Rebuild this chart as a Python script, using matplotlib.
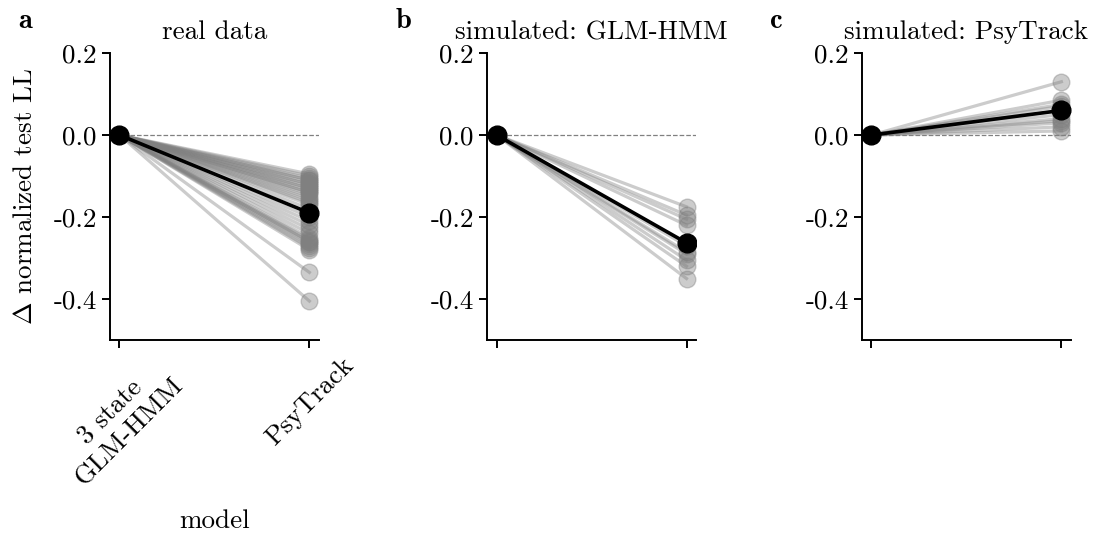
import numpy as np
import matplotlib
matplotlib.use('Agg')
import matplotlib.pyplot as plt

plt.rcParams['font.family'] = 'cmr10'
plt.rcParams['mathtext.fontset'] = 'cm'
plt.rcParams['axes.unicode_minus'] = False
plt.rcParams['axes.formatter.use_mathtext'] = True

# Change in normalized test LL (PsyTrack relative to 3 state GLM-HMM), one value per animal
real_data = [-0.095, -0.10, -0.105, -0.11, -0.11, -0.115, -0.12, -0.12, -0.125,
             -0.13, -0.13, -0.135, -0.14, -0.14, -0.145, -0.15, -0.155, -0.16,
             -0.165, -0.17, -0.18, -0.20, -0.21, -0.22, -0.23, -0.24, -0.25,
             -0.255, -0.26, -0.26, -0.265, -0.27, -0.275, -0.28, -0.335, -0.405]
sim_glmhmm = [-0.175, -0.195, -0.205, -0.22, -0.27, -0.285, -0.29, -0.305, -0.32, -0.35]
sim_psytrack = [0.13, 0.085, 0.075, 0.07, 0.06, 0.05, 0.04, 0.035, 0.03, 0.02, 0.01]

# mean across animals (black line)
mean_vals = [-0.19, -0.263, 0.06]

titles = ['real data', 'simulated: GLM-HMM', 'simulated: PsyTrack']
letters = ['a', 'b', 'c']
model_labels = ['3 state\nGLM-HMM', 'PsyTrack']
yticks = [0.2, 0.0, -0.2, -0.4]
ytick_labels = ['0.2', '0.0', '-0.2', '-0.4']

fig = plt.figure(figsize=(10.94, 5.33), dpi=100)
lefts = [0.1005, 0.4452, 0.7879]
FS = 19.5

for i, vals in enumerate([real_data, sim_glmhmm, sim_psytrack]):
    ax = fig.add_axes([lefts[i], 0.362, 0.191, 0.5385])
    for v in vals:
        ax.plot([0, 1], [0, v], '-o', color='gray', alpha=0.4, lw=2.3, ms=12)
    ax.plot([0, 1], [0, mean_vals[i]], '-o', color='k', lw=2.6, ms=13.5, zorder=5)
    ax.axhline(0, ls='--', color='gray', lw=0.9, zorder=0)

    ax.set_xlim(-0.05, 1.05)
    ax.set_ylim(-0.5, 0.2)
    ax.set_yticks(yticks)
    ax.set_yticklabels(ytick_labels, fontsize=FS)
    ax.set_xticks([0, 1])
    if i == 0:
        ax.set_xticklabels(model_labels, rotation=45, ha='center', fontsize=FS)
        ax.set_xlabel('model', fontsize=FS, labelpad=14)
        ax.set_ylabel(r'$\Delta$ normalized test LL', fontsize=FS, labelpad=12)
    else:
        ax.set_xticklabels([])

    for side in ['top', 'right']:
        ax.spines[side].set_visible(False)
    for side in ['left', 'bottom']:
        ax.spines[side].set_linewidth(1.4)
    ax.tick_params(width=1.4, length=6)

    ax.set_title(titles[i], fontsize=FS, pad=10)
    ax.text(-0.44, 1.065, letters[i], transform=ax.transAxes, fontsize=FS + 1,
            family='cmb10', va='bottom')

fig.savefig('out.png', dpi=100)
